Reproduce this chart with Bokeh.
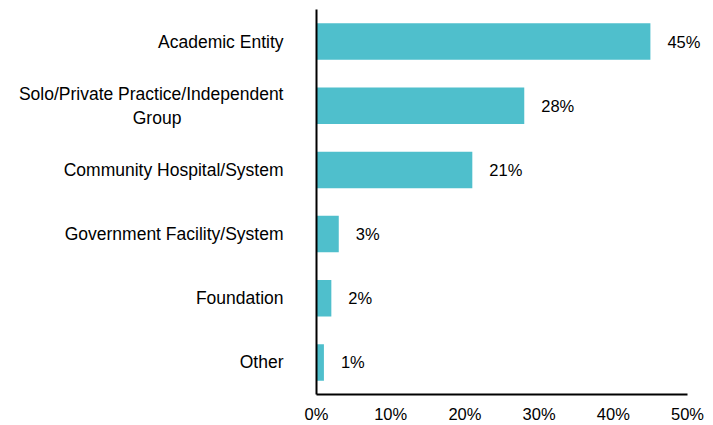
from bokeh.plotting import figure
from bokeh.models import ColumnDataSource, NumeralTickFormatter, FixedTicker, LabelSet
from bokeh.core.properties import value
from bokeh.embed import file_html
from bokeh.resources import INLINE

NBSP = "\u00a0"
categories = ["Academic Entity",
              "Solo/Private Practice/Independent\nGroup" + NBSP * 21,
              "Community Hospital/System",
              "Government Facility/System",
              "Foundation",
              "Other"]
values = [0.45, 0.28, 0.21, 0.03, 0.02, 0.01]
value_labels = ["45%", "28%", "21%", "3%", "2%", "1%"]
x_ticks = [0.0, 0.1, 0.2, 0.3, 0.4, 0.5]

FONT = "Liberation Sans"
BAR = "#4FBFCC"

n = len(categories)
ypos = [n - 1 - i for i in range(n)]  # first category at top
src = ColumnDataSource(dict(y=ypos, val=values, lab=value_labels))

p = figure(width=713, height=425, output_backend="svg", toolbar_location=None,
           y_range=(-0.5, n - 0.5), x_range=(0, 0.5 * 397 / 371))
p.min_border_left = 316
p.min_border_right = 0
p.min_border_top = 9
p.min_border_bottom = 29
p.outline_line_color = None
p.grid.grid_line_color = None
p.background_fill_color = "white"
p.border_fill_color = "white"

p.hbar(y="y", right="val", left=0, height=0.57, source=src,
       fill_color=BAR, line_color=None)
labels = LabelSet(x="val", y="y", text="lab", source=src, x_offset=17,
                  text_align="left", text_baseline="middle",
                  text_font=value(FONT), text_font_size=value("16.5px"),
                  text_color="black")
p.add_layout(labels)

xa = p.xaxis[0]
xa.ticker = FixedTicker(ticks=x_ticks)
xa.bounds = (0, 0.5)
xa.formatter = NumeralTickFormatter(format="0%")
xa.major_tick_line_color = None
xa.minor_tick_line_color = None
xa.major_tick_out = 0
xa.major_tick_in = 0
xa.major_label_standoff = 10
xa.major_label_text_font = FONT
xa.major_label_text_font_size = "16.5px"
xa.major_label_text_color = "black"
xa.axis_line_color = "black"
xa.axis_line_width = 2

ya = p.yaxis[0]
ya.ticker = FixedTicker(ticks=ypos)
ya.major_label_overrides = {y: c for y, c in zip(ypos, categories)}
ya.major_tick_line_color = None
ya.minor_tick_line_color = None
ya.major_tick_out = 0
ya.major_tick_in = 0
ya.major_label_standoff = 33
ya.major_label_text_font = FONT
ya.major_label_text_font_size = "17.5px"
ya.major_label_text_color = "black"
ya.axis_line_color = "black"
ya.axis_line_width = 2

open("out.html", "w").write(file_html(p, INLINE))
